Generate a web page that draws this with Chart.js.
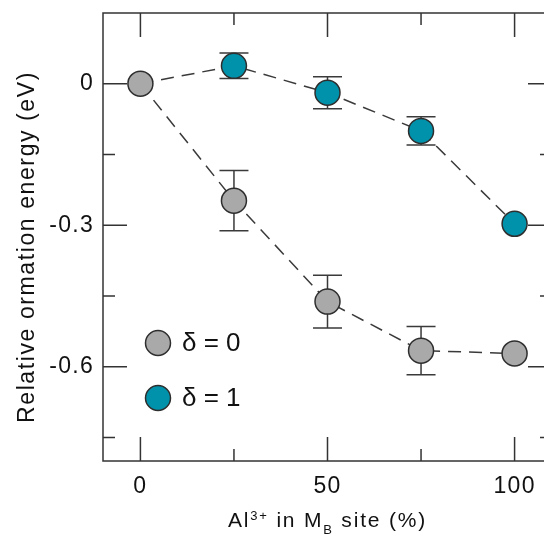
<!DOCTYPE html>
<html>
<head>
<meta charset="utf-8">
<script src="https://cdn.jsdelivr.net/npm/chart.js@4.4.0/dist/chart.umd.min.js"></script>
<style>
    html, body { margin: 0; padding: 0; background: #fff; overflow: hidden; }
</style>
</head>
<body>
<canvas id="chart" width="560" height="538"></canvas>
<script>
// data
const xValues = [0, 25, 50, 75, 100]
const delta0 = [0, -0.248, -0.462, -0.566, -0.572]
const delta0Err = [0, 0.064, 0.056, 0.051, 0]
const delta1 = [0, 0.038, -0.019, -0.1, -0.297]
const delta1Err = [0, 0.027, 0.034, 0.03, 0]
const xMajorTicks = [0, 50, 100]
const xMinorTicks = [25, 75]
const yMajorTicks = [0, -0.3, -0.6]
const yMinorTicks = [-0.15, -0.45, -0.75]
const legendLabels = ["δ = 0", "δ = 1"]
const yTitle = "Relative ormation energy (eV)"

const GREY = "#a9a9a9"
const TEAL = "#0092ab"
const INK = "#333333"
const FONT = "'Liberation Sans', Arial, sans-serif"

// scales should not ask for extra room around the plot
const noPadding = s => {
    s.paddingTop = 0
    s.paddingBottom = 0
    s.paddingLeft = 0
    s.paddingRight = 0
}

const errorBars = {
    id: "errorBars",
    beforeDraw(chart) {
        // original lettering runs a bit wider than Arial
        chart.ctx.letterSpacing = "1.3px"
    },
    beforeDatasetsDraw(chart) {
        const { ctx, scales: { x, y } } = chart
        ctx.save()
        ctx.strokeStyle = "#3a3a3a"
        ctx.lineWidth = 1.5
        const draw = (vals, errs) => vals.forEach((v, i) => {
            if (!errs[i]) return
            const px = x.getPixelForValue(xValues[i])
            const top = y.getPixelForValue(v + errs[i])
            const bot = y.getPixelForValue(v - errs[i])
            ctx.beginPath()
            ctx.moveTo(px, top); ctx.lineTo(px, bot)
            ctx.moveTo(px - 14.5, top); ctx.lineTo(px + 14.5, top)
            ctx.moveTo(px - 14.5, bot); ctx.lineTo(px + 14.5, bot)
            ctx.stroke()
        })
        draw(delta0, delta0Err)
        draw(delta1, delta1Err)
        ctx.restore()
    },
}

const frame = {
    id: "frame",
    afterDraw(chart) {
        const { ctx, chartArea: a, scales: { x, y } } = chart
        ctx.save()
        ctx.strokeStyle = INK
        ctx.lineWidth = 1.5
        ctx.strokeRect(a.left, a.top, a.right - a.left, a.bottom - a.top)

        // inward ticks on all four sides
        ctx.beginPath()
        const xt = (v, len) => {
            const px = x.getPixelForValue(v)
            ctx.moveTo(px, a.bottom); ctx.lineTo(px, a.bottom - len)
            ctx.moveTo(px, a.top); ctx.lineTo(px, a.top + len)
        }
        const yt = (v, len) => {
            const py = y.getPixelForValue(v)
            ctx.moveTo(a.left, py); ctx.lineTo(a.left + len, py)
            ctx.moveTo(a.right, py); ctx.lineTo(a.right - len, py)
        }
        xMajorTicks.forEach(v => xt(v, 24))
        xMinorTicks.forEach(v => xt(v, 12))
        yMajorTicks.forEach(v => yt(v, 24))
        yMinorTicks.forEach(v => yt(v, 12))
        ctx.stroke()

        // x title with super/subscripts
        ctx.fillStyle = "#111"
        ctx.textBaseline = "alphabetic"
        ctx.textAlign = "left"
        ctx.letterSpacing = "1.8px"
        const big = "21px " + FONT, small = "13px " + FONT
        const parts = [
            ["Al", big, 0], ["3+", small, -7], [" in M", big, 0], ["B", small, 7], [" site (%)", big, 0],
        ]
        let total = 0
        parts.forEach(p => { ctx.font = p[1]; total += ctx.measureText(p[0]).width })
        let cx = (a.left + a.right) / 2 - total / 2
        parts.forEach(p => {
            ctx.font = p[1]
            ctx.fillText(p[0], cx, 527 + p[2])
            cx += ctx.measureText(p[0]).width
        })

        // y title
        ctx.save()
        ctx.translate(34, 247)
        ctx.rotate(-Math.PI / 2)
        ctx.textAlign = "center"
        ctx.letterSpacing = "1.6px"
        ctx.font = "23px " + FONT
        ctx.fillText(yTitle, 0, 0)
        ctx.restore()

        // legend inside the plot
        ctx.letterSpacing = "0px"
        const ds = chart.data.datasets
        const lx = a.left + 55
        const ly = [343, 398]
        ds.forEach((d, i) => {
            ctx.beginPath()
            ctx.arc(lx, ly[i], 12.5, 0, Math.PI * 2)
            ctx.fillStyle = i === 0 ? GREY : TEAL
            ctx.fill()
            ctx.lineWidth = 1.5
            ctx.strokeStyle = "#2e2e2e"
            ctx.stroke()
            ctx.fillStyle = "#111"
            ctx.font = "26px " + FONT
            ctx.textBaseline = "middle"
            ctx.textAlign = "left"
            ctx.fillText(legendLabels[i], lx + 24, ly[i] + 1)
        })
        ctx.restore()
        ctx.letterSpacing = "0px"
    },
}

new Chart(document.getElementById("chart"), {
    type: "line",
    data: {
        datasets: [
            {
                label: legendLabels[0],
                data: xValues.map((v, i) => ({ x: v, y: delta0[i] })),
                borderColor: "#3a3a3a",
                borderWidth: 1.5,
                borderDash: [13, 8],
                pointRadius: 12.5,
                pointBackgroundColor: GREY,
                pointBorderColor: "#2e2e2e",
                pointBorderWidth: 1.5,
            },
            {
                label: legendLabels[1],
                data: xValues.map((v, i) => ({ x: v, y: delta1[i] })),
                borderColor: "#3a3a3a",
                borderWidth: 1.5,
                borderDash: [13, 8],
                pointRadius: [0, 12.5, 12.5, 12.5, 12.5],
                pointBackgroundColor: TEAL,
                pointBorderColor: "#2e2e2e",
                pointBorderWidth: 1.5,
            },
        ],
    },
    options: {
        responsive: false,
        animation: false,
        layout: { autoPadding: false, padding: { top: 13, right: 8, left: 0, bottom: 0 } },
        plugins: { legend: false, title: false, tooltip: { enabled: false } },
        scales: {
            x: {
                type: "linear",
                min: -10,
                max: 110,
                grid: { display: false, drawTicks: false },
                border: { display: false },
                afterBuildTicks: s => { s.ticks = xMajorTicks.map(v => ({ value: v })) },
                afterFit: s => { s.height = 77; noPadding(s) },
                ticks: {
                    padding: 12,
                    color: "#111",
                    font: { size: 23, family: FONT },
                    callback: v => String(v),
                    maxRotation: 0,
                },
            },
            y: {
                min: -0.8,
                max: 0.15,
                grid: { display: false, drawTicks: false },
                border: { display: false },
                afterBuildTicks: s => { s.ticks = yMajorTicks.map(v => ({ value: v })) },
                afterFit: s => { s.width = 103; noPadding(s) },
                ticks: {
                    padding: 9,
                    color: "#111",
                    font: { size: 23, family: FONT },
                    callback: v => (v === 0 ? "0" : String(v)),
                },
            },
        },
    },
    plugins: [errorBars, frame],
})
</script>
</body>
</html>
